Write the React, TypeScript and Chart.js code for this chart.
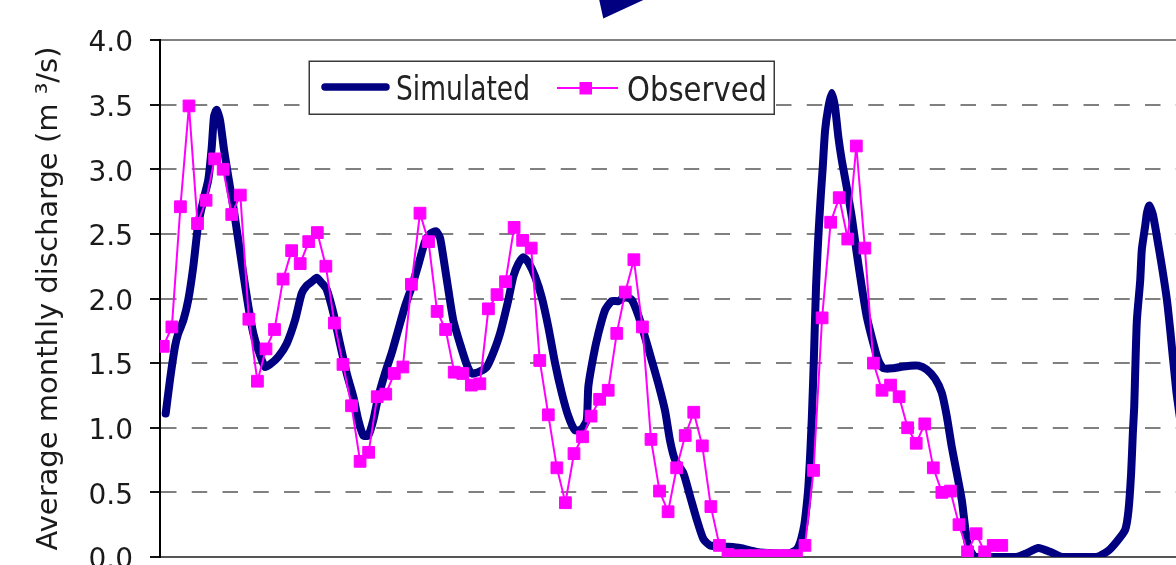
import { useEffect, useRef } from "react";
import { Chart, registerables } from "chart.js";

Chart.register(...registerables);

// ---------- data ----------
const seriesNames = ["Simulated", "Observed"];
const yAxisTitle = "Average monthly discharge (m \u00B3/s)";
const yTickValues = [0, 0.5, 1.0, 1.5, 2.0, 2.5, 3.0, 3.5, 4.0];

// Observed: one value per month, month index 0..98
const observedValues = [
  1.63, 1.78, 2.71, 3.49, 2.58, 2.76, 3.08, 3.0, 2.65, 2.8,
  1.84, 1.36, 1.61, 1.76, 2.15, 2.37, 2.27, 2.44, 2.51, 2.25,
  1.81, 1.49, 1.17, 0.74, 0.81, 1.24, 1.26, 1.42, 1.47, 2.11,
  2.66, 2.44, 1.9, 1.76, 1.43, 1.42, 1.33, 1.34, 1.92, 2.03,
  2.13, 2.55, 2.45, 2.39, 1.52, 1.1, 0.69, 0.42, 0.8, 0.93,
  1.09, 1.22, 1.29, 1.73, 2.05, 2.3, 1.78, 0.91, 0.51, 0.35,
  0.69, 0.94, 1.12, 0.86, 0.39, 0.09, 0.02, 0.01, 0.01, 0.01,
  0.01, 0.01, 0.01, 0.01, 0.01, 0.09, 0.67, 1.85, 2.59, 2.78,
  2.46, 3.18, 2.39, 1.5, 1.29, 1.33, 1.24, 1.0, 0.88, 1.03,
  0.69, 0.5, 0.51, 0.25, 0.04, 0.18, 0.04, 0.09, 0.09,
];

// Simulated: finer time step (month position, value)
const simulatedMonths = [
  0.28, 0.78, 1.37, 1.75, 2.34, 2.92, 3.51, 4.09, 4.68, 5.26,
  5.66, 5.93, 6.24, 6.63, 7.1, 7.6, 8.18, 8.77, 9.35, 9.94,
  10.52, 11.1, 11.89, 12.47, 13.44, 14.42, 15.39, 16.18, 16.76, 17.35,
  17.93, 18.52, 19.1, 19.87, 20.65, 21.44, 22.21, 22.79, 23.38, 23.96,
  24.55, 25.13, 25.91, 26.7, 27.47, 28.25, 29.04, 29.81, 30.59, 31.17,
  31.88, 32.34, 32.73, 33.31, 33.9, 34.68, 35.46, 36.05, 36.82, 37.8,
  38.57, 39.36, 40.33, 40.91, 41.5, 42.08, 42.67, 43.45, 44.23, 45.0,
  45.79, 46.57, 47.34, 48.13, 48.91, 49.49, 49.68, 50.26, 50.85, 51.63,
  52.41, 53.19, 53.97, 54.75, 55.52, 56.31, 57.09, 57.86, 58.65, 59.23,
  59.82, 60.78, 61.57, 62.35, 63.12, 63.9, 65.86, 67.41, 69.36, 71.3,
  73.26, 74.04, 74.42, 74.81, 75.01, 75.4, 75.79, 76.06, 76.29, 76.56,
  76.84, 77.08, 77.35, 77.73, 78.13, 78.51, 78.9, 79.3, 79.88, 80.47,
  81.05, 81.64, 82.22, 83.0, 83.58, 84.16, 85.33, 86.12, 87.29, 88.25,
  89.23, 90.2, 90.99, 91.57, 92.16, 92.74, 93.33, 93.72, 94.1, 94.88,
  96.25, 98.59, 99.75, 100.92, 102.28, 103.65, 105.02, 107.16, 109.11, 110.47,
  111.45, 112.42, 112.81, 113.12, 113.32, 113.48, 113.59, 113.79, 114.18, 114.37,
  114.76, 114.96, 115.23, 115.66, 116.13, 116.71, 117.3, 117.68, 118.39, 119.09,
];
const simulatedValues = [
  1.11, 1.37, 1.63, 1.73, 1.83, 1.99, 2.25, 2.58, 2.76, 2.92,
  3.17, 3.41, 3.46, 3.38, 3.15, 2.94, 2.71, 2.45, 2.19, 1.94,
  1.73, 1.6, 1.47, 1.49, 1.55, 1.65, 1.83, 2.04, 2.1, 2.13,
  2.16, 2.12, 2.07, 1.89, 1.65, 1.42, 1.24, 1.06, 0.94, 0.94,
  1.06, 1.24, 1.42, 1.58, 1.76, 1.94, 2.09, 2.26, 2.44, 2.5,
  2.52, 2.47, 2.32, 2.07, 1.83, 1.65, 1.49, 1.42, 1.43, 1.47,
  1.58, 1.73, 1.99, 2.17, 2.27, 2.32, 2.28, 2.17, 2.01, 1.78,
  1.5, 1.27, 1.09, 0.98, 0.99, 1.06, 1.32, 1.55, 1.73, 1.91,
  1.98, 1.98, 2.01, 1.99, 1.87, 1.7, 1.52, 1.34, 1.13, 0.9,
  0.75, 0.65, 0.47, 0.29, 0.14, 0.09, 0.08, 0.07, 0.04, 0.03,
  0.03, 0.06, 0.11, 0.21, 0.29, 0.55, 1.06, 1.58, 2.09, 2.48,
  2.79, 3.02, 3.3, 3.48, 3.59, 3.48, 3.25, 3.07, 2.86, 2.63,
  2.35, 2.09, 1.86, 1.65, 1.52, 1.46, 1.46, 1.47, 1.48, 1.48,
  1.45, 1.38, 1.27, 1.09, 0.85, 0.65, 0.44, 0.23, 0.08, 0.0,
  0.0, 0.0, 0.0, 0.03, 0.07, 0.04, 0.0, 0.0, 0.0, 0.05,
  0.12, 0.21, 0.36, 0.65, 0.96, 1.16, 1.42, 1.83, 2.14, 2.38,
  2.56, 2.66, 2.72, 2.65, 2.48, 2.25, 1.99, 1.76, 1.29, 0.95,
];

// ---------- styling ----------
const FONT = "'DejaVu Sans', Verdana, sans-serif";
const NAVY = "#000080";
const MAGENTA = "#FF00FF";

const decorPlugin = {
  id: "decor",
  afterDraw(chart: any) {
    const ctx: CanvasRenderingContext2D = chart.ctx;
    ctx.save();

    // tip of the annotation arrow above the plot
    ctx.fillStyle = NAVY;
    ctx.beginPath();
    ctx.moveTo(599, -1);
    ctx.lineTo(645.5, -1);
    ctx.lineTo(603.3, 18.5);
    ctx.closePath();
    ctx.fill();

    // legend box
    ctx.fillStyle = "#ffffff";
    ctx.fillRect(309, 61, 465, 53);
    ctx.strokeStyle = "#3a3a3a";
    ctx.lineWidth = 1.5;
    ctx.strokeRect(309.25, 61.25, 465, 53);

    // simulated sample
    ctx.strokeStyle = NAVY;
    ctx.lineWidth = 7.5;
    ctx.lineCap = "round";
    ctx.beginPath();
    ctx.moveTo(325, 87);
    ctx.lineTo(386, 87);
    ctx.stroke();

    // observed sample
    ctx.strokeStyle = MAGENTA;
    ctx.lineWidth = 2;
    ctx.lineCap = "butt";
    ctx.beginPath();
    ctx.moveTo(557, 88);
    ctx.lineTo(618, 88);
    ctx.stroke();
    ctx.fillStyle = MAGENTA;
    ctx.fillRect(579.5, 82, 12.5, 12.5);

    // legend text
    ctx.fillStyle = "#222222";
    ctx.font = `33px ${FONT}`;
    ctx.textBaseline = "alphabetic";
    ctx.textAlign = "left";
    const fit = (text: string, x: number, y: number, w: number) => {
      const m = ctx.measureText(text).width;
      ctx.save();
      ctx.translate(x, y);
      ctx.scale(w / m, 1);
      ctx.fillText(text, 0, 0);
      ctx.restore();
    };
    fit(seriesNames[0], 396, 100, 134);
    fit(seriesNames[1], 627, 100.5, 140);

    ctx.restore();
  },
};

export default function App() {
  const ref = useRef<HTMLCanvasElement>(null);

  useEffect(() => {
    if (!ref.current) return;
    const chart = new Chart(ref.current, {
      type: "line",
      data: {
        datasets: [
          {
            label: seriesNames[1],
            data: observedValues.map((v, i) => ({ x: i, y: v })),
            borderColor: MAGENTA,
            backgroundColor: MAGENTA,
            borderWidth: 2,
            pointStyle: "rect",
            pointRadius: 8.3,
            pointBackgroundColor: MAGENTA,
            pointBorderColor: MAGENTA,
            pointBorderWidth: 1,
            tension: 0,
            order: 0,
          },
          {
            label: seriesNames[0],
            data: simulatedMonths.map((m, i) => ({ x: m, y: simulatedValues[i] })),
            borderColor: NAVY,
            backgroundColor: NAVY,
            borderWidth: 8,
            pointRadius: 0,
            borderCapStyle: "round",
            borderJoinStyle: "round",
            tension: 0.2,
            order: 1,
          },
        ],
      },
      options: {
        animation: false,
        responsive: false,
        devicePixelRatio: 1,
        events: [],
        layout: { padding: { left: 0, top: 40, right: 20, bottom: 0 } },
        plugins: {
          legend: { display: false },
          tooltip: { enabled: false },
        },
        scales: {
          x: {
            type: "linear",
            min: -0.386,
            max: 120,
            ticks: { display: false },
            grid: { display: false },
            border: { display: true, color: "#555555", width: 2 },
            afterFit: (s: any) => {
              s.height = 43;
            },
          },
          y: {
            type: "linear",
            min: 0,
            max: 4,
            afterBuildTicks: (s: any) => {
              s.ticks = yTickValues.map((v) => ({ value: v }));
            },
            afterFit: (s: any) => {
              s.width = 160;
            },
            ticks: {
              font: { family: FONT, size: 28 },
              color: "#1a1a1a",
              padding: 17,
              labelOffset: 4,
              callback: (v: any) => Number(v).toFixed(1),
            },
            grid: {
              color: (c: any) =>
                c.tick && c.tick.value === 0 ? "rgba(0,0,0,0)" : "#808080",
              lineWidth: 2,
              tickLength: 10,
              tickColor: "#111111",
              tickWidth: 2,
            },
            border: {
              display: true,
              color: "#000000",
              width: 2,
              dash: (c: any) =>
                c.tick && c.tick.value === 4 ? [] : [15.5, 15.25],
              dashOffset: 0,
            },
            title: {
              display: true,
              text: yAxisTitle,
              font: { family: FONT, size: 29 },
              color: "#1a1a1a",
              padding: { top: 32, bottom: 0 },
            },
          },
        },
      },
      plugins: [decorPlugin],
    });
    return () => chart.destroy();
  }, []);

  return (
    <div
      style={{
        position: "fixed",
        left: 0,
        top: 0,
        width: 1176,
        height: 565,
        overflow: "hidden",
        background: "#ffffff",
      }}
    >
      <canvas
        ref={ref}
        width={1210}
        height={600}
        style={{ display: "block", width: 1210, height: 600 }}
      />
    </div>
  );
}
